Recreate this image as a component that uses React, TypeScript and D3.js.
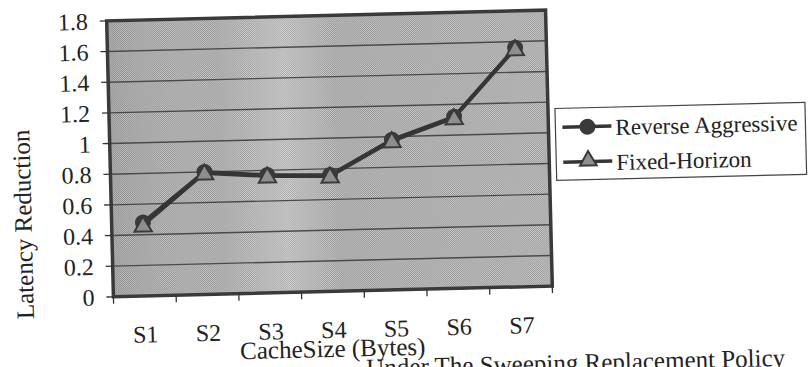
import React from "react";
import * as d3 from "d3";

const categories: string[] = ["S1", "S2", "S3", "S4", "S5", "S6", "S7"];
const reverseAggressive: number[] = [0.48, 0.8, 0.77, 0.76, 0.98, 1.12, 1.56];
const fixedHorizon: number[] = [0.46, 0.79, 0.76, 0.75, 0.97, 1.11, 1.55];
const yTicks: number[] = [0, 0.2, 0.4, 0.6, 0.8, 1, 1.2, 1.4, 1.6, 1.8];
const seriesNames: string[] = ["Reverse Aggressive", "Fixed-Horizon"];
const xTitle = "CacheSize (Bytes)";
const yTitle = "Latency Reduction";
const caption = "Under The Sweeping Replacement Policy";

const FONT = "'Liberation Serif', 'Times New Roman', serif";

export default function App() {
  const W = 810;
  const H = 367;
  const left = 110;
  const right = 549;
  const top = 15.5;
  const bottom = 291.5;

  const x = d3.scaleBand<string>().domain(categories).range([left, right]);
  const y = d3.scaleLinear().domain([0, 1.8]).range([bottom, top]);
  const cx = (i: number) => (x(categories[i]) as number) + x.bandwidth() / 2;

  const line = d3
    .line<number>()
    .x((_, i) => cx(i))
    .y((d) => y(d));

  const tri = d3.symbol().type(d3.symbolTriangle).size(130)() as string;
  const triSmall = d3.symbol().type(d3.symbolTriangle).size(120)() as string;
  const fmt = (v: number) => (v === 0 || v === 1 ? String(v) : d3.format(".1f")(v));

  const xTickPositions = [...categories.map((c) => x(c) as number), right];

  const legX = 556;
  const legY = 114;
  const rowY = [133, 168];

  return (
    <svg
      width={W}
      height={H}
      style={{ position: "absolute", left: 0, top: 0, background: "#fff" }}
      fontFamily={FONT}
    >
      <defs>
        <pattern id="stip" width={2} height={2} patternUnits="userSpaceOnUse">
          <rect width={2} height={2} fill="#d0d0d0" />
          <rect width={1} height={1} fill="#8a8a8a" />
          <rect x={1} y={1} width={1} height={1} fill="#8a8a8a" />
        </pattern>
        <linearGradient id="band" x1="0" x2="1" y1="0" y2="0">
          <stop offset="0%" stopColor="#000" stopOpacity={0.06} />
          <stop offset="25%" stopColor="#fff" stopOpacity={0.0} />
          <stop offset="40%" stopColor="#fff" stopOpacity={0.22} />
          <stop offset="52%" stopColor="#fff" stopOpacity={0.0} />
          <stop offset="100%" stopColor="#fff" stopOpacity={0.05} />
        </linearGradient>
      </defs>
      <g transform="rotate(-1.4, 329, 154)">
        {/* plot area */}
        <rect x={left} y={top} width={right - left} height={bottom - top} fill="url(#stip)" />
        <rect x={left} y={top} width={right - left} height={bottom - top} fill="url(#band)" />
        {/* gridlines */}
        {yTicks.map((t) =>
          t === 0 || t === 1.8 ? null : (
            <line
              key={"g" + t}
              x1={left}
              x2={right}
              y1={y(t)}
              y2={y(t)}
              stroke="#4a4a4a"
              strokeWidth={1.4}
            />
          )
        )}
        {/* border */}
        <rect
          x={left}
          y={top}
          width={right - left}
          height={bottom - top}
          fill="none"
          stroke="#3a3a3a"
          strokeWidth={3.5}
        />
        {/* y ticks */}
        {yTicks.map((t) => (
          <g key={"yt" + t}>
            <line x1={left - 7} x2={left} y1={y(t)} y2={y(t)} stroke="#333" strokeWidth={1.3} />
            <text x={91} y={y(t)} dy="0.35em" textAnchor="end" fontSize={24} fill="#222">
              {fmt(t)}
            </text>
          </g>
        ))}
        {/* x ticks */}
        {xTickPositions.map((p, i) => (
          <line key={"xt" + i} x1={p} x2={p} y1={bottom} y2={bottom + 7} stroke="#333" strokeWidth={1.3} />
        ))}
        {categories.map((c, i) => (
          <text key={c} x={cx(i)} y={338} textAnchor="middle" fontSize={24} fill="#222">
            {c}
          </text>
        ))}
        {/* axis titles */}
        <text x={328} y={357} textAnchor="middle" fontSize={25} fill="#222">
          {xTitle}
        </text>
        <text transform={`translate(30, 217) rotate(-90)`} textAnchor="middle" fontSize={25} fill="#222">
          {yTitle}
        </text>
        {/* series */}
        <path d={line(reverseAggressive) as string} fill="none" stroke="#353535" strokeWidth={3.5} />
        <path d={line(fixedHorizon) as string} fill="none" stroke="#353535" strokeWidth={3} />
        {reverseAggressive.map((v, i) => (
          <circle key={"c" + i} cx={cx(i)} cy={y(v)} r={8} fill="#3a3a3a" />
        ))}
        {fixedHorizon.map((v, i) => (
          <path
            key={"t" + i}
            d={tri}
            transform={`translate(${cx(i)},${y(v) + 1})`}
            fill="#8e8e8e"
            stroke="#3a3a3a"
            strokeWidth={2}
          />
        ))}
        {/* legend */}
        <rect x={legX} y={legY} width={250} height={72} fill="#fff" stroke="#444" strokeWidth={1.2} />
        {seriesNames.map((n, i) => (
          <g key={n}>
            <line x1={563} x2={612} y1={rowY[i]} y2={rowY[i]} stroke="#353535" strokeWidth={3.5} />
            {i === 0 ? (
              <circle cx={588} cy={rowY[i]} r={8} fill="#3a3a3a" />
            ) : (
              <path
                d={triSmall}
                transform={`translate(588,${rowY[i] - 1})`}
                fill="#8e8e8e"
                stroke="#3a3a3a"
                strokeWidth={2}
              />
            )}
            <text x={616} y={rowY[i] + 9} fontSize={23} fill="#222">
              {n}
            </text>
          </g>
        ))}
        {/* caption, cut off at the bottom edge as in the reference */}
        <text x={780} y={377} textAnchor="end" fontSize={25} fill="#222">
          {caption}
        </text>
      </g>
    </svg>
  );
}
